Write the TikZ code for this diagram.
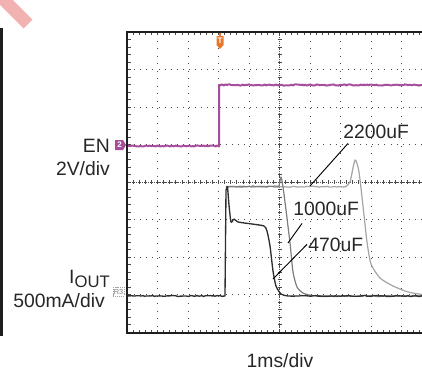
\documentclass[tikz,border=0pt]{standalone}
\usepackage{fontspec}
\setmainfont{Liberation Sans}
\usepackage{xcolor}
\usepackage{tikz}
\usetikzlibrary{calc}
\definecolor{frame}{HTML}{1E1E1E}
\definecolor{dots}{HTML}{4A4A4A}
\definecolor{enpurple}{HTML}{A64D9C}
\definecolor{trig}{HTML}{E8772E}
\definecolor{tdark}{HTML}{2E2E2E}
\definecolor{tmid}{HTML}{7C7C7C}
\definecolor{tlight}{HTML}{A4A4A4}
\definecolor{stamp}{HTML}{F2B2B2}
\tikzset{
  scopebox/.style={line width=1.6pt, draw=frame},
  gridv/.style={draw=dots, line width=0.75pt, dash pattern=on 0.75pt off 4.88pt},
  gridh/.style={draw=dots, line width=0.75pt, dash pattern=on 0.75pt off 3.83pt},
  axisc/.style={draw=dots, line width=0.75pt, dash pattern=on 0.75pt off 0.75pt},
  tick/.style={draw=dots, line width=0.6pt},
  trEN/.style={line width=1.5pt, draw=enpurple, line join=round},
  trA/.style={line width=1pt, draw=tdark, line join=round},
  trB/.style={line width=0.9pt, draw=tmid, line join=round},
  trC/.style={line width=0.9pt, draw=tlight, line join=round},
  lead/.style={line width=0.7pt, draw=black},
  lab/.style={inner sep=0pt, font=\fontsize{14.5}{16}\selectfont, text=black!85}
}
\begin{document}
\begin{tikzpicture}[x=0.75pt, y=-0.75pt]
  \useasboundingbox (0,0) rectangle (422,371);
  \pgfmathsetseed{11}

  % stamp corner and left bar
  \draw[stamp, line width=9.5pt] (-10,-14) -- (28,24);
  \fill[frame] (0,28) rectangle (2.5,336);

  % graticule
  \foreach \k in {1,...,9} {
    \draw[gridv] ({127+30.5*\k},33) -- ({127+30.5*\k},333);
  }
  \foreach \j in {1,...,7} {
    \draw[gridh] (128,{32+37.55*\j}) -- (422,{32+37.55*\j});
  }
  \draw[axisc] (279.5,33) -- (279.5,333);
  \draw[axisc] (128,182.4) -- (422,182.4);
  \foreach \j in {1,...,39} {
    \draw[tick] (277.5,{32+7.51*\j}) -- (281.5,{32+7.51*\j});
    \draw[tick] (128,{32+7.51*\j}) -- (131,{32+7.51*\j});
  }
  \foreach \k in {1,...,48} {
    \draw[tick] ({127+6.1*\k},180.4) -- ({127+6.1*\k},184.4);
    \draw[tick] ({127+6.1*\k},330) -- ({127+6.1*\k},333);
    \draw[tick] ({127+6.1*\k},32) -- ({127+6.1*\k},35);
  }

  % EN trace
  \draw[trEN] plot[domain=128:219, samples=60] (\x,{146+0.6*rand})
    -- (219,85) -- plot[domain=219:422, samples=130] (\x,{85+0.6*rand});

  % output current, three capacitors
  \draw[trC] plot[domain=226:345, samples=70] (\x,{186.8+0.5*rand});
  \draw[trC] plot[smooth, tension=0.4] coordinates {(345,187)
    (350,182) (355,160) (359,172) (364,215) (367,242) (371,264) (380,278)
    (393,286) (408,292) (422,294.5)};
  \draw[trB] plot[domain=226:279, samples=35] (\x,{186.5+0.5*rand});
  \draw[trB] plot[smooth, tension=0.4] coordinates {(279,186.5) (281,177)
    (283,187) (286,210) (290,243) (293,272) (297,287) (303,293) (312,295.5) (330,296)};
  \draw[trB] plot[domain=330:422, samples=60] (\x,{296+0.6*rand});
  \draw[trA] plot[domain=128:225, samples=60] (\x,{296+0.5*rand}) -- (226,190) -- (227.5,186);
  \draw[trA] plot[smooth, tension=0.4] coordinates {(227.5,186) (229,205) (231,222)
    (234,219) (238,222) (252,224) (264,226) (267,231) (270,246) (273,271)
    (276,286) (281,294) (288,296) (300,296)};
  \draw[trA] plot[domain=300:422, samples=70] (\x,{296+0.5*rand});

  % channel markers
  \fill[enpurple] (115,140) -- (123,140) -- (126,145) -- (123,150) -- (115,150) -- cycle;
  \node[text=white, font=\fontsize{6}{6}\selectfont\bfseries] (entag) at (119.5,145) {2};
  \draw[tlight, line width=0.5pt, dash pattern=on 0.8pt off 0.6pt] (113,287) rectangle (124,296);
  \node[text=tmid, font=\fontsize{5.5}{6}\selectfont] (reftag) at (118.5,291.5) {R3};
  \fill[trig] (219,32) rectangle (221,36);
  \fill[trig] (216.5,36) -- (223.5,36) -- (223.5,45) -- (220,49) -- (216.5,45) -- cycle;
  \node[text=white, font=\fontsize{6}{6}\selectfont\bfseries] (trigtag) at (220,41) {T};

  % frame
  \draw[scopebox] (422,32) -- (127,32) -- (127,333) -- (422,333);

  % labels
  \node[lab, anchor=base east] (en) at (110,152) {EN};
  \node[lab, anchor=base east] (envdiv) at (110,175) {2V/div};
  \node[lab, anchor=base east] (iout) at (110,283) {I\raisebox{-3.6pt}{\fontsize{12.5}{14}\selectfont OUT}};
  \node[lab, anchor=base east] (ioutdiv) at (105,307) {500mA/div};
  \node[lab, anchor=base] (tdiv) at (280,367) {1ms/div};

  \node[lab, anchor=base west] (l2200) at (343,138) {2200uF};
  \node[lab, anchor=base west] (l1000) at (293,215) {1000uF};
  \node[lab, anchor=base west] (l470) at (308,251) {470uF};

  \coordinate (p2200) at (310,186);
  \coordinate (p1000) at (288,243);
  \coordinate (p470) at (273,279);
  \draw[lead] ([shift={(5,5)}]l2200.south west) -- (p2200);
  \draw[lead] ([shift={(9,8)}]l1000.south west) -- (p1000);
  \draw[lead] ([shift={(-1,0)}]l470.west) -- (p470);
\end{tikzpicture}
\end{document}
